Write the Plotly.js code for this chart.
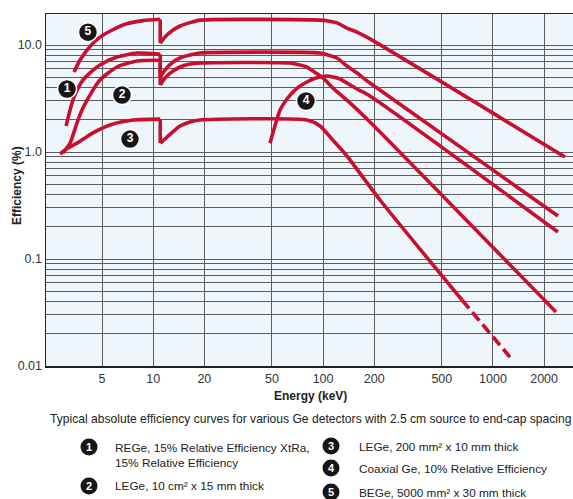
<!DOCTYPE html>
<html>
<head>
<meta charset="utf-8">
<script src="https://cdn.plot.ly/plotly-3.0.1.min.js"></script>
<style>
  html, body { margin: 0; padding: 0; background: #ffffff; }
  #chart { width: 573px; height: 499px; }
</style>
</head>
<body>
<div id="chart"></div>
<script>
// ---- Data (energy in keV, efficiency in %) ----
const c1E = [3.07, 3.24, 3.37, 3.61, 3.86, 4.36, 4.86, 6.12, 8.03, 10.67, 11.0, 11.0, 11.73, 13.08, 14.38, 16.47, 18.86, 95.9, 107, 120.7, 138.2, 158.3, 188.8, 2413];
const c1Y = [1.75, 2.47, 3.06, 3.96, 4.71, 5.71, 6.51, 7.73, 8.42, 8.24, 8.2, 5.02, 5.84, 6.94, 7.56, 8.06, 8.42, 8.42, 8.06, 7.56, 6.37, 5.47, 4.41, 0.252];

const c2E = [2.94, 3.24, 3.56, 3.81, 4.08, 4.86, 6.12, 8.03, 11.0, 11.0, 11.73, 13.08, 14.38, 16.47, 18.86, 63.8, 73.1, 80.4, 87.2, 99.9, 114.3, 138.2, 188.8, 2349];
const c2Y = [0.979, 1.21, 1.87, 2.47, 3.06, 4.71, 6.23, 7.09, 7.2, 4.23, 4.92, 5.71, 6.23, 6.64, 6.79, 6.79, 6.51, 6.23, 5.71, 4.92, 3.96, 3.06, 1.91, 0.0320];

const c3E = [2.83, 3.15, 3.56, 4.42, 5.57, 7.61, 11.0, 11.0, 12.06, 14.38, 16.47, 18.86, 80.4, 95.9, 114.3, 138.2, 216.2, 657];
const c3Y = [0.958, 1.09, 1.21, 1.51, 1.79, 1.99, 2.03, 1.21, 1.38, 1.75, 1.91, 1.99, 1.99, 1.75, 1.29, 0.918, 0.356, 0.0414];
const c3ExtE = [657, 1259];
const c3ExtY = [0.0414, 0.0121];

const c4E = [48.7, 52.1, 55.8, 61.3, 66.5, 73.1, 80.4, 87.2, 95.9, 105.4, 114.3, 125.7, 138.2, 158.3, 188.8, 2413];
const c4Y = [1.21, 1.75, 2.47, 3.13, 3.64, 4.14, 4.51, 4.81, 5.02, 5.13, 5.02, 4.81, 4.41, 3.88, 3.34, 0.179];

const c5E = [3.42, 3.71, 4.08, 4.42, 5.07, 6.64, 8.71, 11.0, 11.0, 11.73, 13.08, 14.38, 16.47, 18.86, 95.9, 107, 120.7, 138.2, 158.3, 188.8, 2654];
const c5Y = [5.59, 7.24, 8.98, 10.4, 12.4, 15.4, 16.9, 17.4, 10.4, 11.9, 13.8, 15.06, 16.2, 17.1, 17.1, 16.8, 16.1, 14.4, 13.2, 11.4, 0.898];

// curve number badges (position on chart)
const badgeE = [3.11, 6.55, 7.30, 79.3, 4.13];
const badgeY = [3.88, 3.41, 1.32, 3.00, 13.2];
const badgeText = ['1', '2', '3', '4', '5'];

// axis ticks
const xTickVals = [5, 10, 20, 50, 100, 200, 500, 1000, 2000];
const xTickText = ['5', '10', '20', '50', '100', '200', '500', '1000', '2000'];
const yMajorVals = [0.01, 0.1, 1, 10];
const yMajorText = ['0.01', '0.1', '1.0', '10.0'];
const xTitle = 'Energy (keV)';
const yTitle = 'Efficiency (%)';

// legend entries
const legendNums = ['1', '2', '3', '4', '5'];
const legendLabels = [
  'REGe, 15% Relative Efficiency XtRa,<br>15% Relative Efficiency',
  'LEGe, 10 cm² x 15 mm thick',
  'LEGe, 200 mm² x 10 mm thick',
  'Coaxial Ge, 10% Relative Efficiency',
  'BEGe, 5000 mm² x 30 mm thick'
];
const captionText = 'Typical absolute efficiency curves for various Ge detectors with 2.5 cm source to end-cap spacing';

// ---- Build ----
const FONT = 'Liberation Sans, Arial, sans-serif';
const RED = '#c8102e';
const LW = 3.6;

const yTickVals = [], yTickText = [];
yMajorVals.forEach((m, i) => {
  for (let k = 1; k <= 9; k++) {
    if (m === 10 && k > 1) break;
    yTickVals.push(m * k);
    yTickText.push(k === 1 ? yMajorText[i] : '');
  }
});

function seg(x, y, shape, dash) {
  return { x: x, y: y, type: 'scatter', mode: 'lines',
    line: { color: RED, width: LW, dash: dash || 'solid', shape: shape, smoothing: 0.6 },
    hoverinfo: 'skip' };
}
// split a curve at its Ge K-edge (repeated energy) into smooth parts + vertical drop
function curveTraces(E, Y) {
  let i = -1;
  for (let k = 0; k < E.length - 1; k++) if (E[k] === E[k + 1]) { i = k; break; }
  if (i < 0) return [seg(E, Y, 'spline')];
  return [
    seg(E.slice(0, i + 1), Y.slice(0, i + 1), 'spline'),
    seg(E.slice(i, i + 2), Y.slice(i, i + 2), 'linear'),
    seg(E.slice(i + 1), Y.slice(i + 1), 'spline')
  ];
}

const traces = [].concat(
  curveTraces(c1E, c1Y), curveTraces(c2E, c2Y), curveTraces(c3E, c3Y),
  [seg(c3ExtE, c3ExtY, 'linear', '11px,5px')],
  curveTraces(c4E, c4Y), curveTraces(c5E, c5Y),
  [{ x: badgeE, y: badgeY, text: badgeText, type: 'scatter', mode: 'markers+text',
    marker: { size: 19, color: '#161616', line: { color: '#ffffff', width: 1.5 } },
    textposition: 'middle center', cliponaxis: false,
    textfont: { family: FONT, size: 12, color: '#ffffff', weight: 'bold' },
    hoverinfo: 'skip' }]
);

// legend geometry (paper coords)
const plotL = 46, plotW = 527, plotB = 366, plotH = 352;
const px = v => (v - plotL) / plotW;
const py = v => (plotB - v) / plotH;
const legendPos = [
  { cx: 89, cy: 447, tx: 113, ty: 455 },
  { cx: 89, cy: 486, tx: 113, ty: 486 },
  { cx: 331, cy: 446, tx: 357, ty: 447 },
  { cx: 331, cy: 468, tx: 357, ty: 469 },
  { cx: 331, cy: 492, tx: 357, ty: 493 }
];
const shapes = [], annotations = [];
legendPos.forEach((p, i) => {
  shapes.push({ type: 'circle', xref: 'paper', yref: 'paper', xsizemode: 'pixel', ysizemode: 'pixel',
    xanchor: px(p.cx), yanchor: py(p.cy), x0: -8.5, x1: 8.5, y0: -8.5, y1: 8.5,
    fillcolor: '#161616', line: { color: '#161616', width: 0 } });
  annotations.push({ xref: 'paper', yref: 'paper', x: px(p.cx), y: py(p.cy), text: '<b>' + legendNums[i] + '</b>',
    showarrow: false, xanchor: 'center', yanchor: 'middle',
    font: { family: FONT, size: 11, color: '#ffffff' } });
  annotations.push({ xref: 'paper', yref: 'paper', x: px(p.tx), y: py(p.ty), text: legendLabels[i],
    showarrow: false, xanchor: 'left', yanchor: 'middle', align: 'left',
    font: { family: FONT, size: 11.8, color: '#222222' } });
});
annotations.push({ xref: 'paper', yref: 'paper', x: px(48), y: py(419), text: captionText,
  showarrow: false, xanchor: 'left', yanchor: 'middle', align: 'left',
  font: { family: FONT, size: 12.1, color: '#222222' } });
annotations.push({ xref: 'paper', yref: 'paper', x: px(310), y: py(396), text: '<b>' + xTitle + '</b>',
  showarrow: false, xanchor: 'center', yanchor: 'middle',
  font: { family: FONT, size: 12, color: '#222222' } });
annotations.push({ xref: 'paper', yref: 'paper', x: px(17), y: py(186), text: '<b>' + yTitle + '</b>',
  showarrow: false, xanchor: 'center', yanchor: 'middle', textangle: -90,
  font: { family: FONT, size: 12, color: '#222222' } });

const layout = {
  width: 573, height: 499,
  margin: { l: 46, r: 0, t: 14, b: 133 },
  paper_bgcolor: '#ffffff', plot_bgcolor: '#eef6fc',
  showlegend: false,
  font: { family: FONT, size: 12, color: '#333333' },
  xaxis: {
    type: 'log', range: [0.369, 3.471],
    tickvals: xTickVals, ticktext: xTickText,
    showgrid: true, gridcolor: '#5c5c5c', gridwidth: 1,
    showline: true, linecolor: '#222222', linewidth: 1.5, mirror: true,
    ticks: '', zeroline: false,
    tickfont: { family: FONT, size: 12.5, color: '#333333' }
  },
  yaxis: {
    type: 'log', range: [-2, 1.29],
    tickvals: yTickVals, ticktext: yTickText,
    showgrid: true, gridcolor: '#5c5c5c', gridwidth: 1,
    showline: true, linecolor: '#222222', linewidth: 1.5, mirror: true,
    ticks: '', zeroline: false,
    tickfont: { family: FONT, size: 12.5, color: '#333333' }
  },
  shapes: shapes,
  annotations: annotations
};

Plotly.newPlot('chart', traces, layout, { staticPlot: true, displayModeBar: false });
</script>
</body>
</html>
